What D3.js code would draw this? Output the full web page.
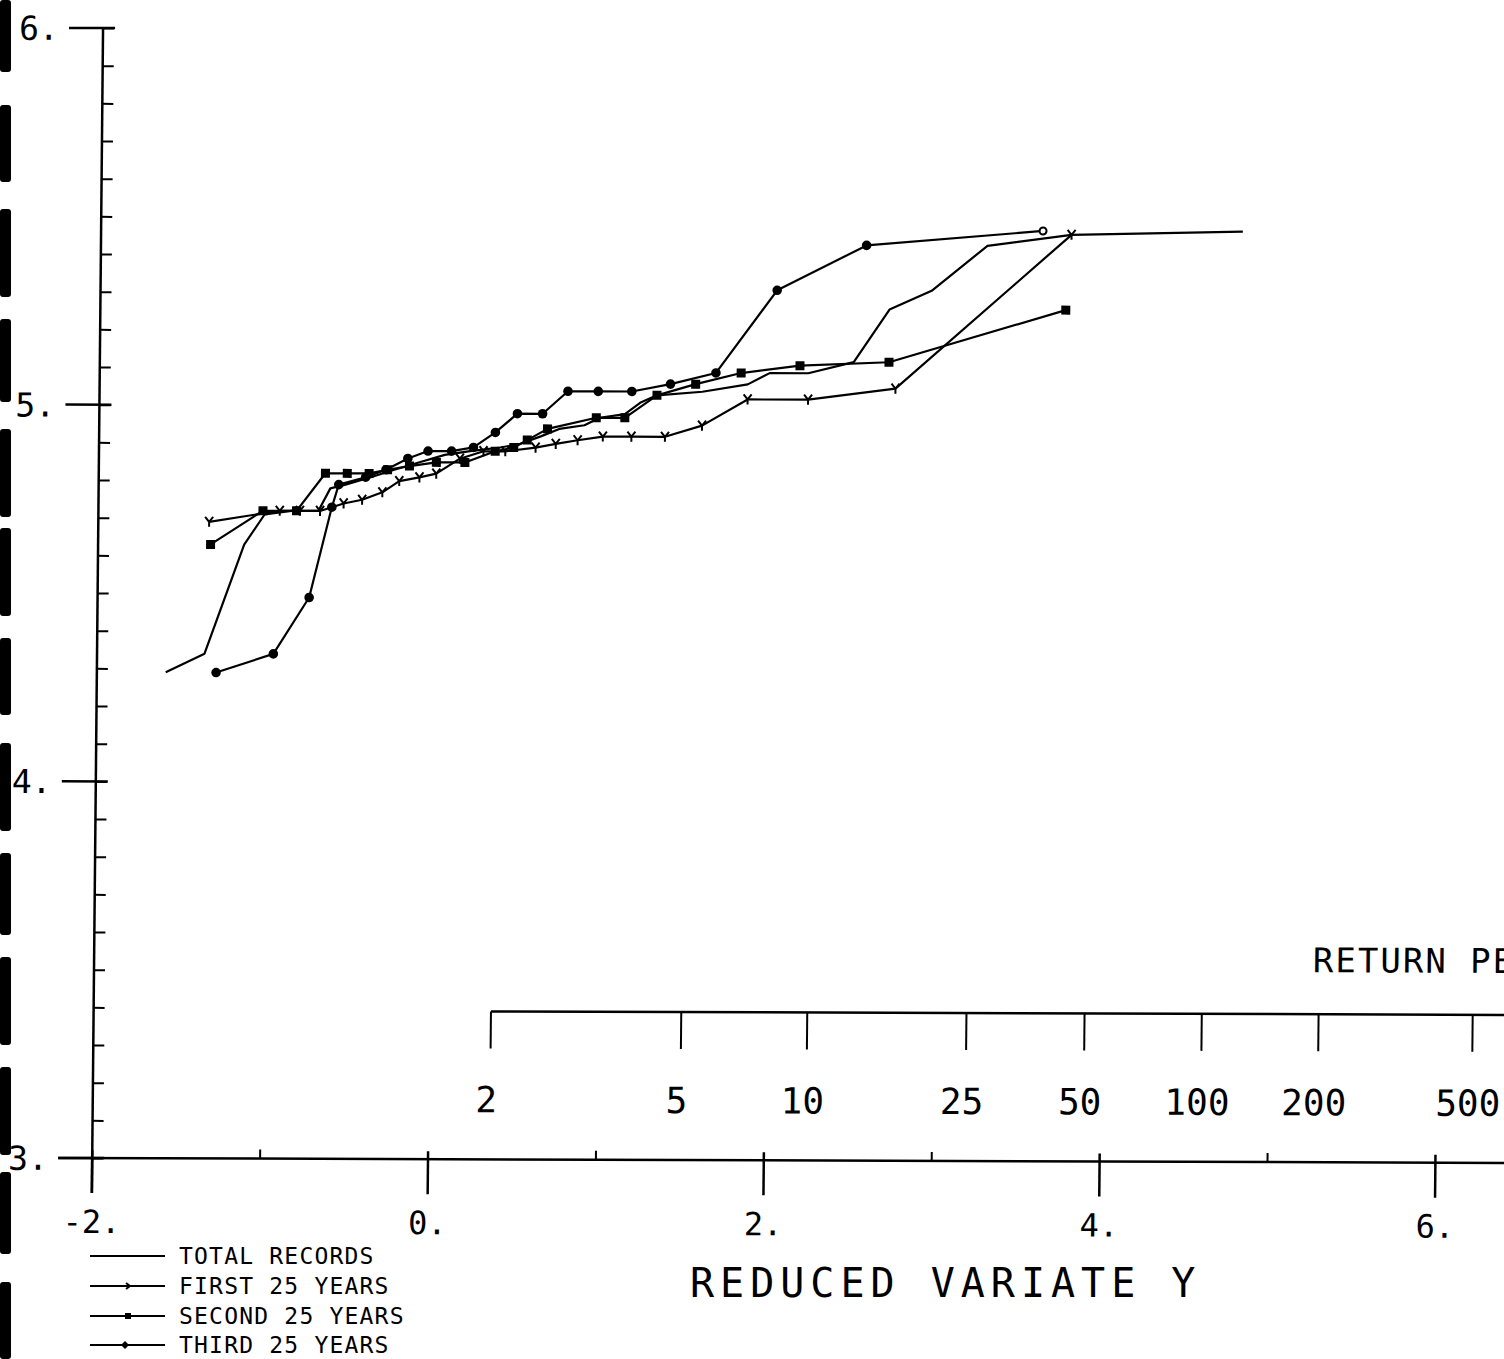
<!DOCTYPE html>
<html>
<head>
<meta charset="utf-8">
<style>
body { margin: 0; background: #fff; }
svg { display: block; background: #fff; }
text { font-family: "DejaVu Sans Mono", monospace; fill: #000; }
</style>
</head>
<body>
<svg width="1504" height="1359"></svg>
<script src="https://cdn.jsdelivr.net/npm/d3@7/dist/d3.min.js"></script>
<script>
// [reduced variate y, value]
var total = [[-1.59,4.29],[-1.36,4.34],[-1.13,4.63],[-1.01,4.71],[-0.85,4.72],[-0.69,4.72],
  [-0.62,4.78],[-0.53,4.79],[-0.38,4.81],[-0.24,4.83],[-0.09,4.85],[0.06,4.87],[0.21,4.88],
  [0.39,4.89],[0.51,4.90],[0.63,4.92],[0.74,4.94],[0.89,4.95],[0.98,4.97],[1.13,4.98],
  [1.22,5.01],[1.32,5.03],[1.59,5.04],[1.86,5.06],[1.99,5.09],[2.22,5.09],[2.49,5.12],
  [2.70,5.26],[2.95,5.31],[3.28,5.43],[3.78,5.46],[4.80,5.47]];

var first = [[-1.34,4.69],[-0.92,4.72],[-0.80,4.72],[-0.68,4.72],[-0.54,4.74],[-0.43,4.75],
  [-0.31,4.77],[-0.21,4.80],[-0.09,4.81],[0.01,4.82],[0.15,4.86],[0.29,4.88],[0.42,4.88],
  [0.60,4.89],[0.72,4.90],[0.85,4.91],[1.00,4.92],[1.17,4.92],[1.37,4.92],[1.59,4.95],
  [1.86,5.02],[2.22,5.02],[2.74,5.05],[3.78,5.46]];

var second = [[-1.33,4.63],[-1.02,4.72],[-0.82,4.72],[-0.65,4.82],[-0.52,4.82],[-0.39,4.82],
  [-0.28,4.83],[-0.15,4.84],[0.01,4.85],[0.18,4.85],[0.36,4.88],[0.47,4.89],[0.55,4.91],
  [0.67,4.94],[0.96,4.97],[1.13,4.97],[1.32,5.03],[1.55,5.06],[1.82,5.09],[2.17,5.11],
  [2.70,5.12],[3.75,5.26]];

var third = [[-1.29,4.29],[-0.95,4.34],[-0.74,4.49],[-0.61,4.73],[-0.57,4.79],[-0.41,4.81],
  [-0.29,4.83],[-0.16,4.86],[-0.04,4.88],[0.10,4.88],[0.23,4.89],[0.36,4.93],[0.49,4.98],
  [0.64,4.98],[0.79,5.04],[0.97,5.04],[1.17,5.04],[1.40,5.06],[1.67,5.09],[2.03,5.31],
  [2.56,5.43],[3.61,5.47]];

var seriesNames = ["TOTAL RECORDS", "FIRST 25 YEARS", "SECOND 25 YEARS", "THIRD 25 YEARS"];
var yTicks = [3, 4, 5, 6],
    xTicks = [-2, 0, 2, 4, 6],
    xMinor = [-1, 1, 3, 5],
    returnPeriods = [2, 5, 10, 25, 50, 100, 200, 500];

var svg = d3.select("svg");

// scan edge marks down the left side
var scanBars = [[0,72],[105,182],[209,297],[319,402],[429,517],[528,616],[638,715],
  [743,831],[853,935],[957,1045],[1067,1155],[1172,1254],[1282,1359]];
svg.selectAll(".scan").data(scanBars).enter().append("rect")
    .attr("class", "scan")
    .attr("x", 0).attr("width", 11)
    .attr("y", function(d) { return d[0]; })
    .attr("height", function(d) { return d[1] - d[0]; })
    .attr("rx", 3)
    .style("fill", "#000");

var x = d3.scaleLinear().domain([-2, 6]).range([92.2, 1435.4]),
    y = d3.scaleLinear().domain([3, 6]).range([1158, 28]);

// gumbel reduced variate of a return period
function reduced(T) { return -Math.log(-Math.log(1 - 1 / T)); }

// the scanned sheet is a little sheared
var g = svg.append("g")
    .attr("transform", "translate(91,1158) skewY(0.2) skewX(-0.55) translate(-91,-1158)");

var x0 = x(-2), y0 = y(3);

// y axis
g.append("line")
    .attr("x1", x0).attr("x2", x0)
    .attr("y1", y(6)).attr("y2", y0 + 35)
    .style("stroke", "#000").style("stroke-width", 2.5);

g.append("g")
    .attr("transform", "translate(" + x0 + ",0)")
    .call(d3.axisRight(y).tickValues(d3.range(30, 61).map(function(i) { return i / 10; }))
      .tickSize(11).tickFormat(""))
    .call(function(a) {
      a.select(".domain").remove();
      a.selectAll("line").style("stroke", "#000").style("stroke-width", 2);
    });

g.selectAll(".ymajor").data(yTicks).enter().append("line")
    .attr("x1", x0 - 34).attr("x2", x0 + 12)
    .attr("y1", function(d) { return y(d); })
    .attr("y2", function(d) { return y(d); })
    .style("stroke", "#000").style("stroke-width", 2.5);

g.selectAll(".ylab").data(yTicks).enter().append("text")
    .attr("x", x0 - 84)
    .attr("y", function(d) { return y(d) + 12; })
    .style("font-size", "33px")
    .text(function(d) { return d + "."; });

// x axis
g.append("line")
    .attr("x1", x0 - 34).attr("x2", 1530)
    .attr("y1", y0).attr("y2", y0)
    .style("stroke", "#000").style("stroke-width", 2.5);

g.selectAll(".xmajor").data(xTicks).enter().append("line")
    .attr("x1", function(d) { return x(d); })
    .attr("x2", function(d) { return x(d); })
    .attr("y1", y0 - 8).attr("y2", y0 + 35)
    .style("stroke", "#000").style("stroke-width", 2.5);

g.selectAll(".xminor").data(xMinor).enter().append("line")
    .attr("x1", function(d) { return x(d); })
    .attr("x2", function(d) { return x(d); })
    .attr("y1", y0 - 9).attr("y2", y0)
    .style("stroke", "#000").style("stroke-width", 2);

g.selectAll(".xlab").data(xTicks).enter().append("text")
    .attr("x", function(d) { return x(d); })
    .attr("y", 1233)
    .attr("text-anchor", "middle")
    .style("font-size", "32px")
    .text(function(d) { return d + "."; });

// return period scale
var yR = 1010;
g.append("line")
    .attr("x1", x(reduced(2))).attr("x2", 1530)
    .attr("y1", yR).attr("y2", yR)
    .style("stroke", "#000").style("stroke-width", 2.5);

g.selectAll(".rtick").data(returnPeriods).enter().append("line")
    .attr("x1", function(d) { return x(reduced(d)); })
    .attr("x2", function(d) { return x(reduced(d)); })
    .attr("y1", yR).attr("y2", yR + 37)
    .style("stroke", "#000").style("stroke-width", 2);

g.selectAll(".rlab").data(returnPeriods).enter().append("text")
    .attr("x", function(d) { return x(reduced(d)) - 4; })
    .attr("y", 1111)
    .attr("text-anchor", "middle")
    .style("font-size", "36px")
    .text(function(d) { return d; });

// runs off the right edge of the sheet, as in the original
g.append("text")
    .attr("x", 1311).attr("y", 968)
    .style("font-size", "34px")
    .style("letter-spacing", "2px")
    .text("RETURN PERIOD");

// series
var line = d3.line()
    .x(function(d) { return x(d[0]); })
    .y(function(d) { return y(d[1]); });

[total, first, second, third].forEach(function(s) {
  g.append("path")
      .datum(s)
      .attr("d", line)
      .style("fill", "none")
      .style("stroke", "#000")
      .style("stroke-width", 2.2)
      .style("stroke-linejoin", "round");
});

g.selectAll(".tickmark").data(first).enter().append("path")
    .attr("transform", function(d) { return "translate(" + x(d[0]) + "," + y(d[1]) + ")"; })
    .attr("d", "M-4,-5L0,0L4,-5M0,0V5")
    .style("fill", "none").style("stroke", "#000").style("stroke-width", 2);

g.selectAll(".sq").data(second).enter().append("rect")
    .attr("x", function(d) { return x(d[0]) - 4.5; })
    .attr("y", function(d) { return y(d[1]) - 4.5; })
    .attr("width", 9).attr("height", 9)
    .style("fill", "#000");

g.selectAll(".dot").data(third).enter().append("circle")
    .attr("cx", function(d) { return x(d[0]); })
    .attr("cy", function(d) { return y(d[1]); })
    .attr("r", function(d, i) { return i == third.length - 1 ? 3.5 : 4.8; })
    .style("fill", function(d, i) { return i == third.length - 1 ? "#fff" : "#000"; })
    .style("stroke", "#000")
    .style("stroke-width", function(d, i) { return i == third.length - 1 ? 2 : 0; });

// axis title
svg.append("text")
    .attr("x", 690).attr("y", 1297)
    .style("font-size", "40px")
    .style("letter-spacing", "6px")
    .text("REDUCED VARIATE Y");

// legend
var legend = svg.selectAll(".legend").data(seriesNames).enter().append("g")
    .attr("class", "legend")
    .attr("transform", function(d, i) { return "translate(0," + [1256, 1286, 1316, 1345][i] + ")"; });

legend.append("line")
    .attr("x1", 90).attr("x2", 165)
    .style("stroke", "#000").style("stroke-width", 2);

legend.append("text")
    .attr("x", 179).attr("y", 8)
    .style("font-size", "23px")
    .style("letter-spacing", "1.2px")
    .text(function(d) { return d; });

legend.filter(function(d, i) { return i == 1; }).append("path")
    .attr("d", "M126,-3L130,0L126,3")
    .style("fill", "none").style("stroke", "#000").style("stroke-width", 2);
legend.filter(function(d, i) { return i == 2; }).append("rect")
    .attr("x", 125).attr("y", -3).attr("width", 6).attr("height", 6)
    .style("fill", "#000");
legend.filter(function(d, i) { return i == 3; }).append("path")
    .attr("d", "M125,-4L129,0L125,4L121,0Z")
    .style("fill", "#000");
</script>
</body>
</html>
